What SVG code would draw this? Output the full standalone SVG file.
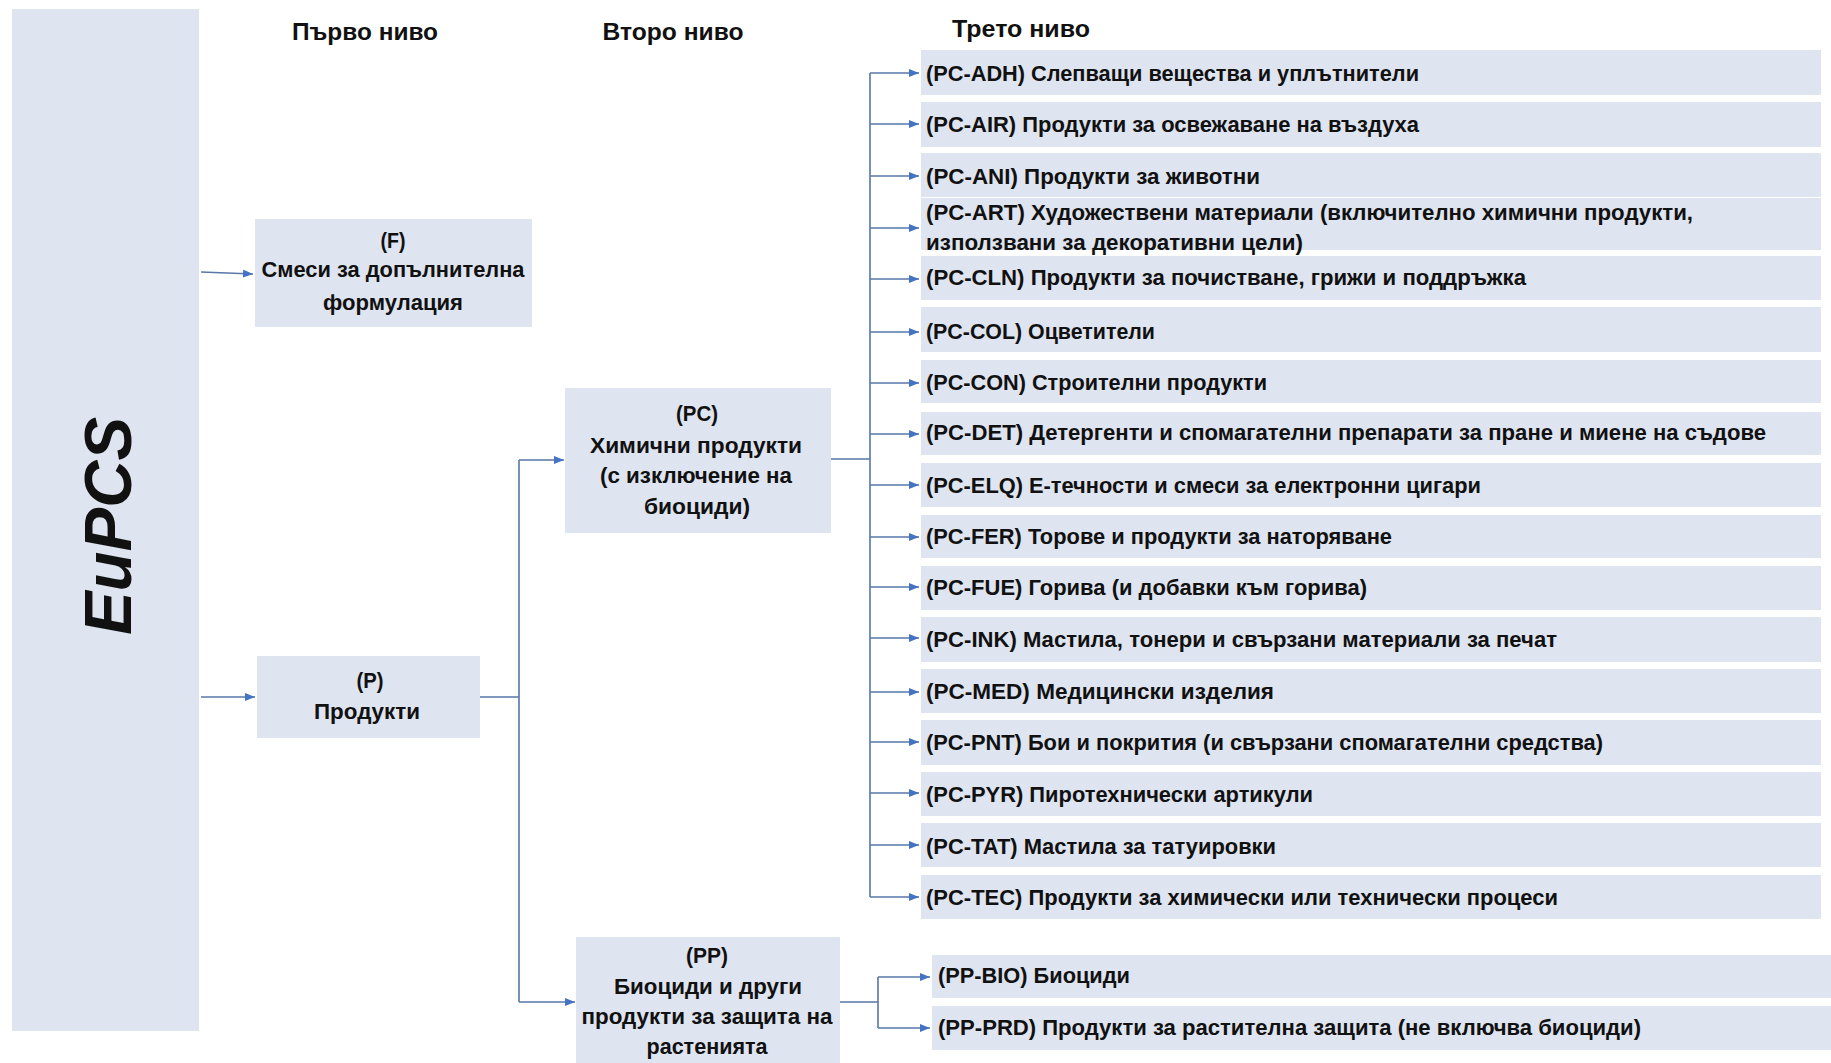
<svg xmlns="http://www.w3.org/2000/svg" width="1831" height="1063" viewBox="0 0 1831 1063">
<defs>
<style>
.box{fill:#dee4f0}
.t{font-family:"Liberation Sans",Arial,sans-serif;font-weight:bold;font-size:22px;fill:#111}
.h{font-family:"Liberation Sans",Arial,sans-serif;font-weight:bold;font-size:24px;fill:#111}
.c{text-anchor:middle}
.ln{fill:none;stroke:#5877a8;stroke-width:1.6}
.ar{fill:none;stroke:#5877a8;stroke-width:1.6;marker-end:url(#arr)}
</style>
<marker id="arr" markerUnits="userSpaceOnUse" markerWidth="10" markerHeight="8" refX="10" refY="4" orient="auto">
<path d="M0,0 L10,4 L0,8 z" fill="#4472c4"/>
</marker>
</defs>
<rect width="1831" height="1063" fill="#ffffff"/>

<g id="headers">
<text class="h c" x="365" y="40" textLength="146" lengthAdjust="spacingAndGlyphs">Първо ниво</text>
<text class="h c" x="673" y="40" textLength="141" lengthAdjust="spacingAndGlyphs">Второ ниво</text>
<text class="h c" x="1021" y="37" textLength="138" lengthAdjust="spacingAndGlyphs">Трето ниво</text>
</g>

<g id="EuPCS">
<rect class="box" x="12" y="9" width="187" height="1022"/>
<text transform="translate(131,526) rotate(-90)" text-anchor="middle" font-family="Liberation Sans, Arial, sans-serif" font-weight="bold" font-style="italic" font-size="67" fill="#111" textLength="218" lengthAdjust="spacingAndGlyphs">EuPCS</text>
</g>

<g id="F">
<rect class="box" x="255" y="219" width="277" height="108"/>
<text class="t c" x="393" y="248" textLength="25" lengthAdjust="spacingAndGlyphs">(F)</text>
<text class="t c" x="393" y="277" textLength="263" lengthAdjust="spacingAndGlyphs">Смеси за допълнителна</text>
<text class="t c" x="393" y="310" textLength="140" lengthAdjust="spacingAndGlyphs">формулация</text>
</g>

<g id="P">
<rect class="box" x="257" y="656" width="223" height="82"/>
<text class="t c" x="370" y="688" textLength="27" lengthAdjust="spacingAndGlyphs">(P)</text>
<text class="t c" x="367" y="719" textLength="106" lengthAdjust="spacingAndGlyphs">Продукти</text>
</g>

<g id="PC">
<rect class="box" x="565" y="388" width="266" height="145"/>
<text class="t c" x="697" y="421" textLength="42" lengthAdjust="spacingAndGlyphs">(PC)</text>
<text class="t c" x="696" y="453" textLength="212" lengthAdjust="spacingAndGlyphs">Химични продукти</text>
<text class="t c" x="696" y="483" textLength="192" lengthAdjust="spacingAndGlyphs">(с изключение на</text>
<text class="t c" x="697" y="514" textLength="106" lengthAdjust="spacingAndGlyphs">биоциди)</text>
</g>

<g id="PP">
<rect class="box" x="576" y="937" width="264" height="126"/>
<text class="t c" x="707" y="963" textLength="42" lengthAdjust="spacingAndGlyphs">(PP)</text>
<text class="t c" x="708" y="994" textLength="188" lengthAdjust="spacingAndGlyphs">Биоциди и други</text>
<text class="t c" x="707" y="1024" textLength="251" lengthAdjust="spacingAndGlyphs">продукти за защита на</text>
<text class="t c" x="707" y="1054" textLength="121" lengthAdjust="spacingAndGlyphs">растенията</text>
</g>

<g id="PC-ADH"><rect class="box" x="921" y="50" width="900" height="45"/><text class="t" x="926" y="81" textLength="493" lengthAdjust="spacingAndGlyphs">(PC-ADH) Слепващи вещества и уплътнители</text></g>
<g id="PC-AIR"><rect class="box" x="921" y="102" width="900" height="45"/><text class="t" x="926" y="132" textLength="493" lengthAdjust="spacingAndGlyphs">(PC-AIR) Продукти за освежаване на въздуха</text></g>
<g id="PC-ANI"><rect class="box" x="921" y="153" width="900" height="44"/><text class="t" x="926" y="184" textLength="334" lengthAdjust="spacingAndGlyphs">(PC-ANI) Продукти за животни</text></g>
<g id="PC-ART"><rect class="box" x="921" y="198" width="900" height="52"/><text class="t" x="926" y="220" textLength="767" lengthAdjust="spacingAndGlyphs">(PC-ART) Художествени материали (включително химични продукти,</text><text class="t" x="926" y="250" textLength="377" lengthAdjust="spacingAndGlyphs">използвани за декоративни цели)</text></g>
<g id="PC-CLN"><rect class="box" x="921" y="256" width="900" height="44"/><text class="t" x="926" y="285" textLength="600" lengthAdjust="spacingAndGlyphs">(PC-CLN) Продукти за почистване, грижи и поддръжка</text></g>
<g id="PC-COL"><rect class="box" x="921" y="307" width="900" height="45"/><text class="t" x="926" y="339" textLength="229" lengthAdjust="spacingAndGlyphs">(PC-COL) Оцветители</text></g>
<g id="PC-CON"><rect class="box" x="921" y="360" width="900" height="43"/><text class="t" x="926" y="390" textLength="341" lengthAdjust="spacingAndGlyphs">(PC-CON) Строителни продукти</text></g>
<g id="PC-DET"><rect class="box" x="921" y="412" width="900" height="43"/><text class="t" x="926" y="440" textLength="840" lengthAdjust="spacingAndGlyphs">(PC-DET) Детергенти и спомагателни препарати за пране и миене на съдове</text></g>
<g id="PC-ELQ"><rect class="box" x="921" y="463" width="900" height="44"/><text class="t" x="926" y="493" textLength="555" lengthAdjust="spacingAndGlyphs">(PC-ELQ) Е-течности и смеси за електронни цигари</text></g>
<g id="PC-FER"><rect class="box" x="921" y="515" width="900" height="43"/><text class="t" x="926" y="544" textLength="466" lengthAdjust="spacingAndGlyphs">(PC-FER) Торове и продукти за наторяване</text></g>
<g id="PC-FUE"><rect class="box" x="921" y="566" width="900" height="44"/><text class="t" x="926" y="595" textLength="441" lengthAdjust="spacingAndGlyphs">(PC-FUE) Горива (и добавки към горива)</text></g>
<g id="PC-INK"><rect class="box" x="921" y="617" width="900" height="45"/><text class="t" x="926" y="647" textLength="631" lengthAdjust="spacingAndGlyphs">(PC-INK) Мастила, тонери и свързани материали за печат</text></g>
<g id="PC-MED"><rect class="box" x="921" y="669" width="900" height="44"/><text class="t" x="926" y="699" textLength="348" lengthAdjust="spacingAndGlyphs">(PC-MED) Медицински изделия</text></g>
<g id="PC-PNT"><rect class="box" x="921" y="720" width="900" height="45"/><text class="t" x="926" y="750" textLength="677" lengthAdjust="spacingAndGlyphs">(PC-PNT) Бои и покрития (и свързани спомагателни средства)</text></g>
<g id="PC-PYR"><rect class="box" x="921" y="772" width="900" height="44"/><text class="t" x="926" y="802" textLength="387" lengthAdjust="spacingAndGlyphs">(PC-PYR) Пиротехнически артикули</text></g>
<g id="PC-TAT"><rect class="box" x="921" y="823" width="900" height="44"/><text class="t" x="926" y="854" textLength="350" lengthAdjust="spacingAndGlyphs">(PC-TAT) Мастила за татуировки</text></g>
<g id="PC-TEC"><rect class="box" x="921" y="875" width="900" height="44"/><text class="t" x="926" y="905" textLength="632" lengthAdjust="spacingAndGlyphs">(PC-TEC) Продукти за химически или технически процеси</text></g>
<g id="PP-BIO"><rect class="box" x="932" y="955" width="899" height="43"/><text class="t" x="938" y="983" textLength="192" lengthAdjust="spacingAndGlyphs">(PP-BIO) Биоциди</text></g>
<g id="PP-PRD"><rect class="box" x="932" y="1006" width="899" height="44"/><text class="t" x="938" y="1035" textLength="703" lengthAdjust="spacingAndGlyphs">(PP-PRD) Продукти за растителна защита (не включва биоциди)</text></g>

<g id="connectors">
<path class="ar" d="M201 272 L253 274"/>
<path class="ar" d="M201 697 H255"/>
<path class="ln" d="M480 697 H519 M519 460 V1002"/>
<path class="ar" d="M519 460 H564"/>
<path class="ar" d="M519 1002 H575"/>
<path class="ln" d="M831 459 H870 M870 73 V897"/>
<path class="ar" d="M870 73 H919"/>
<path class="ar" d="M870 124 H919"/>
<path class="ar" d="M870 176 H919"/>
<path class="ar" d="M870 228 H919"/>
<path class="ar" d="M870 279 H919"/>
<path class="ar" d="M870 332 H919"/>
<path class="ar" d="M870 383 H919"/>
<path class="ar" d="M870 434 H919"/>
<path class="ar" d="M870 485 H919"/>
<path class="ar" d="M870 537 H919"/>
<path class="ar" d="M870 587 H919"/>
<path class="ar" d="M870 638 H919"/>
<path class="ar" d="M870 692 H919"/>
<path class="ar" d="M870 742 H919"/>
<path class="ar" d="M870 793 H919"/>
<path class="ar" d="M870 845 H919"/>
<path class="ar" d="M870 897 H919"/>
<path class="ln" d="M840 1002 H878 M878 977 V1028"/>
<path class="ar" d="M878 977 H930"/>
<path class="ar" d="M878 1028 H930"/>
</g>
</svg>
